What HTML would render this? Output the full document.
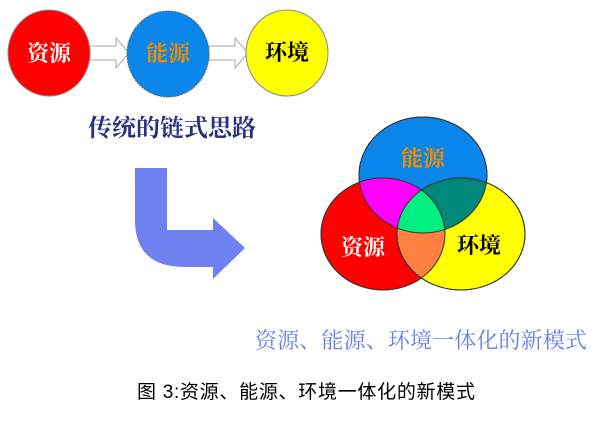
<!DOCTYPE html>
<html><head><meta charset="utf-8"><style>
html,body{margin:0;padding:0;background:#fff;width:600px;height:427px;overflow:hidden}
svg{display:block}
text{font-family:"Liberation Serif","Noto Serif CJK SC",serif}
</style></head><body>
<svg width="600" height="427" viewBox="0 0 600 427" xmlns="http://www.w3.org/2000/svg">
<defs>
<clipPath id="cR"><ellipse cx="383" cy="234" rx="62" ry="56"/></clipPath>
<clipPath id="cB"><ellipse cx="423" cy="175" rx="64" ry="58"/></clipPath>
<clipPath id="cY"><ellipse cx="461" cy="234" rx="64" ry="56"/></clipPath>
</defs>
<!-- top chain -->
<path d="M90,46 H116 V38 L129,53 L116,68 V60 H90 Z" fill="#fff" stroke="#aaa" stroke-width="1"/>
<path d="M209,46 H235 V38 L248,53 L235,68 V60 H209 Z" fill="#fff" stroke="#aaa" stroke-width="1"/>
<ellipse cx="49" cy="53" rx="41" ry="43" fill="#f00" stroke="#888" stroke-width="1"/>
<ellipse cx="168" cy="54" rx="41" ry="43" fill="#0a86ea" stroke="#666" stroke-width="1" stroke-dasharray="2,1"/>
<ellipse cx="287" cy="53" rx="41" ry="43" fill="#ff0" stroke="#888" stroke-width="1"/>
<text x="49" y="61" font-size="22" font-weight="bold" fill="#fff" text-anchor="middle">资源</text>
<text x="168" y="61" font-size="22" font-weight="bold" fill="#f08c00" text-anchor="middle">能源</text>
<text x="287" y="60" font-size="22" font-weight="bold" fill="#000" text-anchor="middle">环境</text>
<text x="172" y="136" font-size="24" font-weight="bold" fill="#2a3080" text-anchor="middle">传统的链式思路</text>
<!-- bent arrow -->
<path d="M135,168 H167 V230 H213 V218 L245,248 L213,279 V267 H185 Q135,267 135,220 Z" fill="#6f80f0"/>
<!-- venn -->
<ellipse cx="423" cy="175" rx="64" ry="58" fill="#0a86ea" stroke="#333" stroke-width="1"/>
<ellipse cx="383" cy="234" rx="62" ry="56" fill="#f00" stroke="#333" stroke-width="1"/>
<ellipse cx="461" cy="234" rx="64" ry="56" fill="#ff0" stroke="#333" stroke-width="1"/>
<g clip-path="url(#cR)"><ellipse cx="423" cy="175" rx="64" ry="58" fill="#f0f"/></g>
<g clip-path="url(#cY)"><ellipse cx="423" cy="175" rx="64" ry="58" fill="#00877a"/></g>
<g clip-path="url(#cY)"><ellipse cx="383" cy="234" rx="62" ry="56" fill="#ff8040"/></g>
<g clip-path="url(#cY)"><g clip-path="url(#cB)"><ellipse cx="383" cy="234" rx="62" ry="56" fill="#00ef80"/></g></g>
<ellipse cx="423" cy="175" rx="64" ry="58" fill="none" stroke="#333" stroke-width="1"/>
<ellipse cx="383" cy="234" rx="62" ry="56" fill="none" stroke="#333" stroke-width="1"/>
<ellipse cx="461" cy="234" rx="64" ry="56" fill="none" stroke="#333" stroke-width="1"/>
<text x="423" y="166" font-size="22" font-weight="bold" fill="#f08c00" text-anchor="middle">能源</text>
<text x="363" y="255" font-size="22" font-weight="bold" fill="#fff" text-anchor="middle">资源</text>
<text x="479" y="253" font-size="22" font-weight="bold" fill="#000" text-anchor="middle">环境</text>
<text x="421" y="348" font-size="22" fill="#6a7ee8" text-anchor="middle" textLength="332" lengthAdjust="spacing">资源、能源、环境一体化的新模式</text>
<text x="306" y="398" font-size="19" fill="#000" text-anchor="middle" textLength="338" lengthAdjust="spacing" style="font-family:'Liberation Sans','Noto Sans CJK SC',sans-serif">图 3:资源、能源、环境一体化的新模式</text>
</svg>
</body></html>
